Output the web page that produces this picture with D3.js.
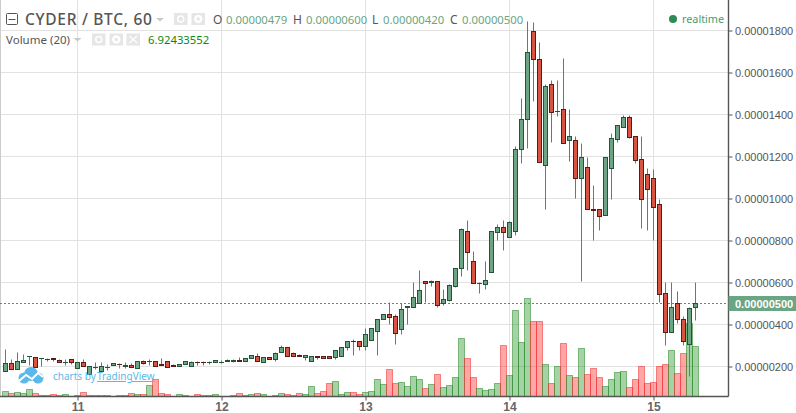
<!DOCTYPE html>
<html>
<head>
<meta charset="utf-8">
<script src="https://d3js.org/d3.v7.min.js"></script>
<style>
  html, body { margin: 0; padding: 0; background: #fff; }
  svg { display: block; }
  .axis text { font-family: "Liberation Sans", Arial, sans-serif; font-size: 11px; fill: #555; }
  .legend { font-family: "Noto Sans", sans-serif; }
</style>
</head>
<body>
<svg id="chart" width="796" height="413"></svg>
<script>
// prices are in units of 0.00000001 BTC, one candle per hour, day 10 12:00 first
const opens = [178,213,187,220,247,241,236,231,236,227,219,232,192,218,160,196,178,196,206,211,202,203,192,222,224,222,210,222,203,198,208,198,219,219,217,218,218,226,226,229,222,237,246,
  221,243,235,265,289,260,252,245,225,248,246,246,245,249,289,320,318,297,326,368,425,446,437,378,483,483,499,603,602,603,499,516,583,665,841,698,596,592,646,840,863,816,844,1232,1374,1793,1660,1155,1541,1412,1422,1275,1275,1094,1146,947,946,921,1145,1283,1340,1384,1294,1185,1113,1094,970,546,360,498,425,303,479];
const highs = [281,232,265,256,249,241,238,240,237,235,232,232,218,233,198,218,218,208,213,213,218,213,222,227,232,222,237,222,208,208,222,225,222,222,222,227,227,232,232,244,237,251,260,
  241,243,267,300,289,267,257,251,246,248,246,246,275,289,318,327,318,379,379,422,446,503,446,502,485,598,657,603,610,603,567,591,665,857,895,748,598,700,841,875,895,890,1248,1474,1843,1836,1741,1543,1562,1562,1666,1424,1295,1260,1194,1062,946,1194,1311,1346,1396,1396,1294,1296,1142,1138,996,598,598,557,438,479,600];
const lows = [178,187,187,220,205,197,201,222,224,218,205,208,192,198,160,186,178,181,206,192,192,194,192,208,203,201,203,197,198,198,208,198,203,205,208,218,213,222,221,222,222,237,222,
  221,235,225,265,249,249,246,229,225,235,240,240,235,249,278,252,276,276,326,252,425,400,305,352,400,483,499,503,580,483,491,511,578,629,657,594,549,567,646,800,752,816,824,1168,1240,1463,1173,947,1268,1390,1260,1178,1001,605,946,800,848,921,996,1267,1340,1288,1169,858,848,800,505,301,360,403,301,154,420];
const closes = [213,187,225,229,248,197,237,232,234,218,220,218,218,198,198,197,198,197,213,209,203,194,222,216,225,201,203,197,198,208,222,218,217,217,218,227,219,227,227,222,237,251,222,
  241,235,260,289,249,249,249,251,246,245,240,240,275,289,318,318,297,351,379,422,446,435,359,470,484,527,560,597,603,489,518,584,665,851,744,594,597,608,841,863,840,884,1232,1374,1693,1660,1173,1532,1411,1413,1260,1294,1094,1194,946,945,916,1194,1285,1346,1384,1292,1183,997,1045,959,545,360,479,425,321,474,500];
const volumes = [0.70,0.42,0.56,0.42,0.93,0.42,0.14,0.14,0.28,0.14,0.28,0.02,0.14,0.56,0.14,0.14,0.14,0.14,0.02,0.14,0.14,0.42,0.28,0.28,1.53,2.37,0.42,0.28,0.03,0.28,0.14,0.02,0.28,0.14,0.14,0.28,0.02,0.02,0.14,0.42,0.14,0.28,0.42,
  0.24,0.02,0.10,0.38,0.24,0.14,0.38,0.24,1.39,0.38,0.65,1.77,2.05,0.24,0.52,0.52,0.24,0.52,0.65,2.33,1.63,3.72,1.77,1.91,1.35,2.74,2.33,1.07,1.63,3.02,1.21,1.49,2.60,8.04,5.25,2.60,1.07,0.79,0.93,1.77,
  7.06,2.88,11.94,7.48,13.61,10.40,10.40,4.42,1.77,4.14,7.34,2.88,2.60,6.64,3.02,3.86,2.60,1.35,2.33,3.30,3.44,1.21,2.33,4.14,1.77,1.91,4.14,4.42,6.36,3.16,5.95,10.13,6.92];

const dayHours = [12, 36, 60, 84, 108];
const dayLabels = ['11', '12', '13', '14', '15'];
const priceTicks = [200, 400, 600, 800, 1000, 1200, 1400, 1600, 1800];
const lastPrice = 500;
const ohlcLabels = ['O', 'H', 'L', 'C'];
const ohlcValues = ['0.00000479', '0.00000600', '0.00000420', '0.00000500'];

const UP_FILL = '#6ba583', UP_BORDER = '#225437';
const DOWN_FILL = '#d75442', DOWN_BORDER = '#5b1a13';
const WICK = '#737375', GRID = '#e2e2e2', AXIS = '#555';

const plotRight = 728.5, plotBottom = 396.5;
const fmtPrice = v => (v / 1e8).toFixed(8);

const x = d3.scaleLinear().domain([0, 115]).range([5.5, 695.5]);
const y = d3.scaleLinear().domain([0, 1800]).range([408.5, 30.5]);
const yVol = d3.scaleLinear().domain([0, 14]).range([plotBottom, plotBottom - 100.5]);

const svg = d3.select('#chart');
const crisp = v => Math.round(v - 0.5) + 0.5;

// grid
const grid = svg.append('g').attr('stroke', GRID).attr('stroke-width', 1);
grid.selectAll('.h').data(priceTicks).join('line').attr('class', 'h')
  .attr('x1', 0).attr('x2', plotRight).attr('y1', d => crisp(y(d))).attr('y2', d => crisp(y(d)));
grid.selectAll('.v').data(dayHours).join('line').attr('class', 'v')
  .attr('x1', d => x(d)).attr('x2', d => x(d)).attr('y1', 0).attr('y2', plotBottom);
svg.append('line').attr('x1', 0.5).attr('x2', 0.5).attr('y1', 0).attr('y2', plotBottom).attr('stroke', '#ccc');

// volume pane
const hours = d3.range(opens.length);
const isUp = i => closes[i] >= opens[i];
svg.append('g').selectAll('rect').data(hours).join('rect')
  .attr('x', i => x(i) - 3)
  .attr('width', 6)
  .attr('y', i => crisp(yVol(volumes[i])))
  .attr('height', i => Math.max(0.01, plotBottom - crisp(yVol(volumes[i]))))
  .attr('fill', i => isUp(i) ? 'rgb(0,128,0)' : 'rgb(255,0,0)')
  .attr('fill-opacity', 0.35)
  .attr('stroke', i => isUp(i) ? 'rgb(40,140,40)' : 'rgb(240,50,50)')
  .attr('stroke-opacity', 0.55);

// last price line
svg.append('line')
  .attr('x1', 0).attr('x2', plotRight)
  .attr('y1', crisp(y(lastPrice))).attr('y2', crisp(y(lastPrice)))
  .attr('stroke', '#3f9a6c').attr('stroke-dasharray', '2,2');

// candles
const candles = svg.append('g').selectAll('g').data(hours).join('g');
candles.append('line')
  .attr('x1', i => x(i)).attr('x2', i => x(i))
  .attr('y1', i => crisp(y(highs[i]))).attr('y2', i => crisp(y(lows[i])))
  .attr('stroke', WICK);
candles.append('rect')
  .attr('x', i => x(i) - 2)
  .attr('width', 4)
  .attr('y', i => crisp(y(Math.max(opens[i], closes[i]))))
  .attr('height', i => Math.max(0.01, crisp(y(Math.min(opens[i], closes[i]))) - crisp(y(Math.max(opens[i], closes[i])))))
  .attr('fill', i => isUp(i) ? UP_FILL : DOWN_FILL)
  .attr('stroke', i => isUp(i) ? UP_BORDER : DOWN_BORDER);

// axes
const yAxis = d3.axisRight(y).tickValues(priceTicks).tickFormat(fmtPrice).tickSize(4).tickPadding(3);
const yG = svg.append('g').attr('class', 'axis').attr('transform', `translate(${plotRight},0)`).call(yAxis);
yG.select('.domain').remove();
yG.selectAll('.tick line').attr('stroke', AXIS);
yG.selectAll('.tick text').attr('x', 6.5);

const xAxis = d3.axisBottom(x).tickValues(dayHours).tickFormat((d, i) => dayLabels[i]).tickSize(4).tickPadding(2);
const xG = svg.append('g').attr('class', 'axis').attr('transform', `translate(0,${plotBottom})`).call(xAxis);
xG.select('.domain').remove();
xG.selectAll('.tick line').attr('stroke', AXIS);
xG.selectAll('.tick text').style('font-size', '12px').attr('font-weight', 'bold').style('fill', '#666');

svg.append('line').attr('x1', plotRight).attr('x2', plotRight).attr('y1', 0).attr('y2', plotBottom)
  .attr('stroke', AXIS).attr('stroke-width', 1.4);
svg.append('line').attr('x1', 0).attr('x2', plotRight).attr('y1', plotBottom).attr('y2', plotBottom)
  .attr('stroke', AXIS).attr('stroke-width', 1.4);

// last price badge
svg.append('rect').attr('x', plotRight).attr('y', crisp(y(lastPrice)) - 7.5)
  .attr('width', 796 - plotRight).attr('height', 15).attr('fill', UP_FILL);
svg.append('text').attr('x', 735).attr('y', crisp(y(lastPrice)) + 4)
  .attr('font-family', '"Liberation Sans", Arial, sans-serif').attr('font-size', 11).attr('font-weight', 'bold')
  .attr('fill', '#fff').text(fmtPrice(lastPrice));

// legend
const legend = svg.append('g').attr('class', 'legend');
const addText = (tx, ty, size, fill, str) => legend.append('text')
  .attr('x', tx).attr('y', ty).attr('font-size', size).attr('fill', fill).text(str);
const addCaret = (cx, cy) => legend.append('path')
  .attr('d', `M${cx - 4},${cy} h8 l-4,3.5 z`).attr('fill', '#c8c8c8');
const addIcon = (ix, iy, kind) => {
  legend.append('rect').attr('x', ix).attr('y', iy).attr('width', 13.5).attr('height', 12).attr('fill', '#e6e6e6');
  if (kind === 'close') {
    legend.append('path').attr('d', `M${ix + 3},${iy + 2.5} l7.5,7 m0,-7 l-7.5,7`).attr('stroke', '#fff').attr('stroke-width', 1.4);
  } else {
    legend.append('circle').attr('cx', ix + 6.75).attr('cy', iy + 6).attr('r', 3)
      .attr('fill', kind === 'gear' ? '#e6e6e6' : 'none').attr('stroke', '#fff').attr('stroke-width', kind === 'gear' ? 2.4 : 1.5);
  }
};

legend.append('rect').attr('x', 6.5).attr('y', 13.5).attr('width', 11).attr('height', 11)
  .attr('fill', 'none').attr('stroke', AXIS).attr('rx', 1);
legend.append('line').attr('x1', 8.5).attr('x2', 15.5).attr('y1', 19.5).attr('y2', 19.5).attr('stroke', AXIS);
addText(25, 25, 15.5, AXIS, 'CYDER / BTC, 60').attr('font-weight', 500).attr('letter-spacing', 0.7);
addCaret(160, 18);
addIcon(174, 13, 'eye');
addIcon(191.5, 13, 'gear');

const ohlcX = [213, 293, 372, 450];
const ohlcValueX = [226, 306, 383, 462];
ohlcLabels.forEach((d, i) => {
  addText(ohlcX[i], 24, 12, AXIS, d);
  addText(ohlcValueX[i], 24, 11.3, UP_FILL, ohlcValues[i]);
});

addText(6, 44, 11.5, AXIS, 'Volume (20)');
addCaret(77.5, 38);
addIcon(92, 33.5, 'eye');
addIcon(109.5, 33.5, 'gear');
addIcon(126.5, 33.5, 'close');
addText(148, 44, 11.3, '#0a8a0a', '6.92433552');

legend.append('circle').attr('cx', 673).attr('cy', 19).attr('r', 4).attr('fill', '#2e8b57');
addText(682, 23, 10.8, '#3ea06e', 'realtime');

// watermark
const logo = svg.append('g');
const LOGO = '#5bb8ea';
logo.append('circle').attr('cx', 31).attr('cy', 374).attr('r', 7).attr('fill', LOGO);
logo.append('circle').attr('cx', 24).attr('cy', 378).attr('r', 5.5).attr('fill', LOGO);
logo.append('circle').attr('cx', 38).attr('cy', 378).attr('r', 5.5).attr('fill', LOGO);
logo.append('path').attr('d', 'M19,381 L26,375 L32,379 L38,373 L43,377').attr('fill', 'none').attr('stroke', '#fff').attr('stroke-width', 2);
logo.append('text').attr('x', 53).attr('y', 380).attr('font-family', '"Noto Sans", sans-serif').attr('font-size', 10)
  .attr('fill', LOGO).text('charts by');
logo.append('text').attr('x', 97).attr('y', 380).attr('font-family', '"Noto Sans", sans-serif').attr('font-size', 10)
  .attr('fill', LOGO).attr('text-decoration', 'underline').text('TradingView');
</script>
</body>
</html>
